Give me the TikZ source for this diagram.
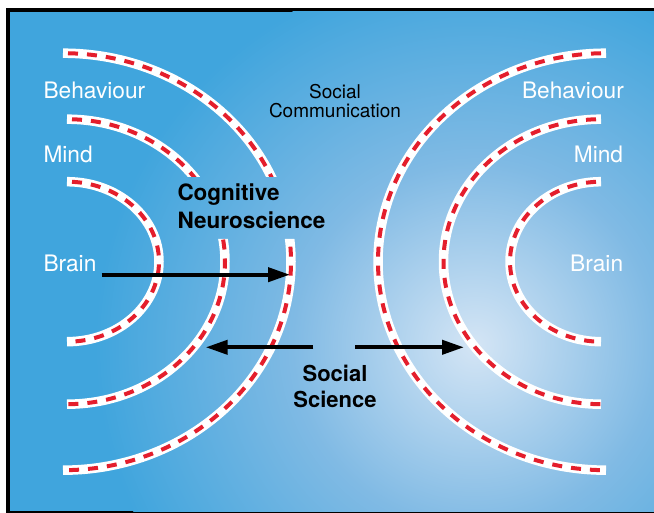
\documentclass[tikz,border=0pt]{standalone}
\usepackage{fontspec}
\setmainfont{TeX Gyre Heros}
\usetikzlibrary{arrows.meta}

\definecolor{bgblue}{RGB}{64,165,221}
\definecolor{bgmid}{RGB}{128,186,228}
\definecolor{bglight}{RGB}{212,229,245}
\definecolor{wavered}{RGB}{228,30,44}
\pgfdeclareradialshading{glow}{\pgfpoint{0bp}{0bp}}{color(0bp)=(bglight); color(12bp)=(bgmid); color(25bp)=(bgblue); color(50bp)=(bgblue)}

\begin{document}
\begin{tikzpicture}[x=1pt,y=1pt,
    wave/.style={wavered,line width=4pt,dash pattern=on 10pt off 9pt,dash phase=14pt,
        preaction={draw=white,solid,line width=9.5pt}},
    level/.style={white,inner sep=0pt,font=\fontsize{22.7}{24}\selectfont},
    field/.style={black,inner sep=0pt,font=\bfseries\fontsize{22.5}{27.7}\selectfont},
    bigarrow/.style={line width=4pt,-{Triangle[length=22pt,width=14pt]}}]
    \useasboundingbox (0,0) rectangle (654,513);

    % Background
    \fill[black] (6,0) rectangle (654,505);
    \fill[bgblue] (10,1.5) rectangle (654,501);
    \begin{scope}
        \clip (10,1.5) rectangle (654,501);
        \shade[shading=glow] (475,168) circle (380);
    \end{scope}

    % Left waves
    \begin{scope}
        \clip (0,336) rectangle (330,513) (0,0) rectangle (330,274);
        \draw[wave] (63,459.8) arc[start angle=90,end angle=-90,x radius=228,y radius=208.5];
        \draw[wave] (67,393.8) arc[start angle=90,end angle=-90,x radius=158,y radius=142.5];
    \end{scope}
    \draw[wave] (67,331.3) arc[start angle=90,end angle=-90,x radius=92,y radius=80];

    % Right waves
    \draw[wave] (606,459.8) arc[start angle=90,end angle=270,x radius=228,y radius=208.5];
    \draw[wave] (601,393.8) arc[start angle=90,end angle=270,x radius=157.5,y radius=142.5];
    \draw[wave] (601,331.3) arc[start angle=90,end angle=270,x radius=91,y radius=80];

    % Levels
    \node[level,anchor=base west] (behavL) at (43.3,414) {Behaviour};
    \node[level,anchor=base west] (mindL) at (43.3,350.7) {Mind};
    \node[level,anchor=base west] (brainL) at (43.3,241) {Brain};
    \node[level,anchor=base east] (behavR) at (624,414) {Behaviour};
    \node[level,anchor=base east] (mindR) at (623.3,350.7) {Mind};
    \node[level,anchor=base east] (brainR) at (623.3,241) {Brain};

    % Fields (base = last line)
    \node[inner sep=0pt,align=center,anchor=base,font=\fontsize{19}{19.4}\selectfont] (comm) at (335,395.3) {Social\\Communication};
    \node[field,align=left,anchor=base west] (cogneuro) at (177.3,284.7) {Cognitive\\Neuroscience};
    \node[field,align=center,anchor=base,font=\bfseries\fontsize{22}{25.7}\selectfont] (socsci) at (335,105.7) {Social\\Science};

    % Arrows
    \coordinate (brainTail) at (101.7,238.3);
    \coordinate (behavHead) at (290,238.3);
    \coordinate (sciLeft) at (313.3,165.7);
    \coordinate (mindHeadL) at (205.7,165.7);
    \coordinate (sciRight) at (355,165.7);
    \coordinate (mindHeadR) at (464,165.7);
    \draw[bigarrow] (brainTail) -- (behavHead);
    \draw[bigarrow] (sciLeft) -- (mindHeadL);
    \draw[bigarrow] (sciRight) -- (mindHeadR);
\end{tikzpicture}
\end{document}
